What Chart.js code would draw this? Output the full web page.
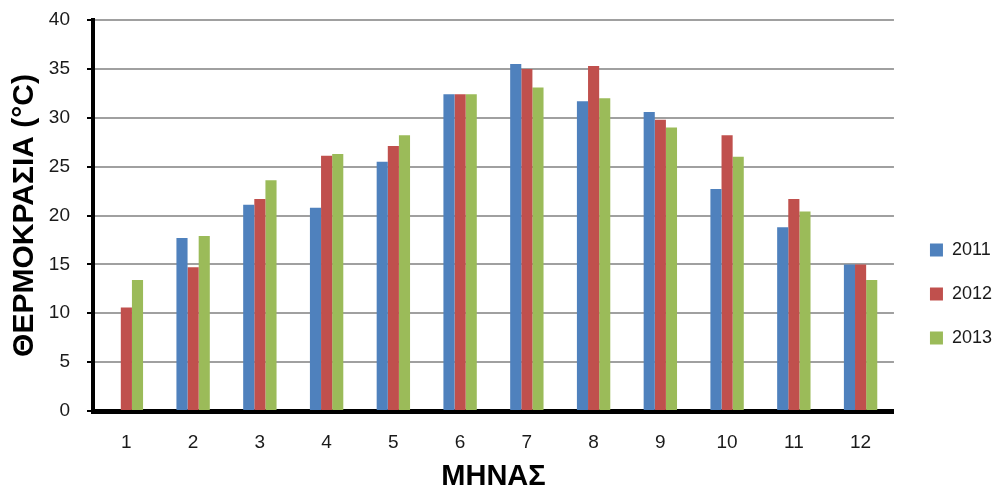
<!DOCTYPE html>
<html>
<head>
<meta charset="utf-8">
<script src="https://cdn.jsdelivr.net/npm/chart.js@4"></script>
<style>
  html, body { margin: 0; padding: 0; background: #ffffff; }
  #wrap { width: 1002px; height: 494px; position: relative; }
</style>
</head>
<body>
<div id="wrap"><canvas id="chart" width="1002" height="494"></canvas></div>
<script>
// Monthly temperature (°C) per year
const months = ['1', '2', '3', '4', '5', '6', '7', '8', '9', '10', '11', '12'];
const temps2011 = [null, 17.7, 21.1, 20.8, 25.5, 32.4, 35.5, 31.7, 30.6, 22.7, 18.8, 15.0];
const temps2012 = [10.6, 14.7, 21.7, 26.1, 27.1, 32.4, 35.0, 35.3, 29.8, 28.2, 21.7, 15.0];
const temps2013 = [13.4, 17.9, 23.6, 26.3, 28.2, 32.4, 33.1, 32.0, 29.0, 26.0, 20.4, 13.4];
const yearLabels = ['2011', '2012', '2013'];
const yTicks = [0, 5, 10, 15, 20, 25, 30, 35, 40];

const FONT = "'Liberation Sans', Arial, sans-serif";

new Chart(document.getElementById('chart'), {
  type: 'bar',
  data: {
    labels: months,
    datasets: [
      { label: yearLabels[0], data: temps2011, backgroundColor: '#4F81BD' },
      { label: yearLabels[1], data: temps2012, backgroundColor: '#C0504D' },
      { label: yearLabels[2], data: temps2013, backgroundColor: '#9BBB59' }
    ]
  },
  options: {
    responsive: false,
    animation: false,
    devicePixelRatio: 1,
    layout: { padding: { top: 20, right: 0, bottom: 0, left: 0 } },
    datasets: {
      bar: { categoryPercentage: 0.5, barPercentage: 1.0, borderWidth: 0 }
    },
    plugins: {
      tooltip: { enabled: false },
      legend: {
        position: 'right',
        align: 'center',
        // empty title block pushes the legend items down the right margin
        title: { display: true, text: '', font: { size: 10 }, padding: { top: 31, bottom: 31 } },
        labels: {
          boxWidth: 13,
          boxHeight: 13,
          padding: 26,
          color: '#1a1a1a',
          font: { family: FONT, size: 18 }
        }
      }
    },
    scales: {
      x: {
        grid: { display: false, drawTicks: false },
        border: { display: true, color: '#000000', width: 5 },
        ticks: { color: '#1a1a1a', font: { family: FONT, size: 19 }, padding: 20, maxRotation: 0 },
        title: {
          display: true,
          text: 'ΜΗΝΑΣ',
          color: '#000000',
          font: { family: FONT, size: 29, weight: 'bold' },
          padding: { top: 0, bottom: 0 }
        },
        afterFit(scale) { scale.height = 83; }
      },
      y: {
        min: 0,
        max: 40,
        afterBuildTicks(scale) { scale.ticks = yTicks.map(v => ({ value: v })); },
        grid: { color: '#A0A0A0', lineWidth: 2, tickColor: '#000000', tickWidth: 2, tickLength: 6 },
        border: { display: true, color: '#000000', width: 4 },
        ticks: { color: '#1a1a1a', font: { family: FONT, size: 19 }, padding: 17 },
        title: {
          display: true,
          text: 'ΘΕΡΜΟΚΡΑΣΙΑ (°C)',
          color: '#000000',
          font: { family: FONT, size: 30, weight: 'bold' },
          padding: { top: 7, bottom: 0 }
        },
        afterFit(scale) {
          scale.width = 93;
          // plot area top comes from layout padding only
          scale.paddingTop = 0;
          scale.paddingBottom = 0;
        }
      },
      gap: {
        position: 'right',
        display: true,
        grid: { display: false, drawTicks: false },
        border: { display: false },
        ticks: { display: false },
        afterFit(scale) { scale.width = 10; }
      }
    }
  }
});
</script>
</body>
</html>
